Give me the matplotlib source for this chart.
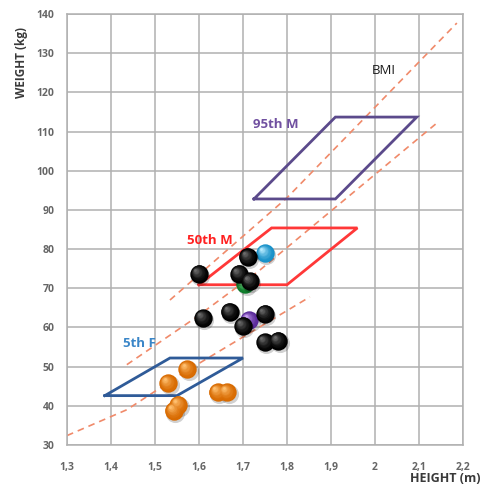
import matplotlib
matplotlib.use("Agg")
import matplotlib.pyplot as plt
import matplotlib.transforms as mtransforms
import numpy as np

# BMI reference lines (height m, weight kg)
bmi_low_h = [1.30, 1.436, 1.564, 1.852]
bmi_low_w = [32.4, 39.0, 48.4, 67.8]
bmi_mid_h = [1.436, 1.595, 1.739, 2.143]
bmi_mid_w = [50.5, 62.7, 74.7, 112.4]
bmi_high_h = [1.534, 1.80, 2.186]
bmi_high_w = [67.0, 93.1, 137.7]

# percentile boxes
box_95m_h = [1.725, 1.91, 2.095, 1.91, 1.725]
box_95m_w = [92.8, 92.8, 113.7, 113.7, 92.8]
box_50m_h = [1.60, 1.80, 1.96, 1.765, 1.60]
box_50m_w = [70.9, 70.9, 85.4, 85.4, 70.9]
box_5f_h = [1.386, 1.55, 1.70, 1.534, 1.386]
box_5f_w = [42.6, 42.6, 52.2, 52.2, 42.6]

# people
orange_h = [1.573, 1.53, 1.553, 1.543, 1.643, 1.664]
orange_w = [49.4, 45.8, 40.3, 38.8, 43.5, 43.5]
green_h = [1.705]
green_w = [71.0]
purple_h = [1.714]
purple_w = [61.9]
black_h = [1.60, 1.691, 1.711, 1.716, 1.609, 1.670, 1.700, 1.75, 1.75, 1.78]
black_w = [73.7, 73.7, 78.0, 71.8, 62.4, 64.0, 60.4, 63.5, 56.3, 56.6]
cyan_h = [1.75]
cyan_w = [79.0]

x_ticks = [1.3, 1.4, 1.5, 1.6, 1.7, 1.8, 1.9, 2.0, 2.1, 2.2]
x_labels = ["1,3", "1,4", "1,5", "1,6", "1,7", "1,8", "1,9", "2", "2,1", "2,2"]
y_ticks = list(range(30, 141, 10))

plt.rcParams['font.family'] = ['Open Sans', 'DejaVu Sans']

fig = plt.figure(figsize=(4.83, 4.84), dpi=100)
ax = fig.add_axes([0.1387, 0.0806, 0.8199, 0.8904])
ax.set_xlim(1.3, 2.2)
ax.set_ylim(30, 140)

ax.set_xticks(x_ticks)
ax.set_xticklabels(x_labels)
ax.set_yticks(y_ticks)
ax.tick_params(length=0, labelsize=7.5, labelcolor='#666666')
ax.tick_params(axis='x', pad=12)
ax.tick_params(axis='y', pad=9)
for lab in ax.get_xticklabels() + ax.get_yticklabels():
    lab.set_fontweight('bold')
ax.grid(True, color='#b0b0b0', linewidth=1.1)
ax.set_axisbelow(True)
for s in ax.spines.values():
    s.set_color('#b0b0b0')
    s.set_linewidth(1.1)

# dashed BMI lines
dash_kw = dict(color='#f08a6a', linewidth=1.2, linestyle=(0, (4, 3)), zorder=2)
ax.plot(bmi_low_h, bmi_low_w, **dash_kw)
ax.plot(bmi_mid_h, bmi_mid_w, **dash_kw)
ax.plot(bmi_high_h, bmi_high_w, **dash_kw)

# boxes
ax.plot(box_95m_h, box_95m_w, color='#5b4a8b', linewidth=2.0, zorder=3, solid_joinstyle='miter')
ax.plot(box_50m_h, box_50m_w, color='#ff3838', linewidth=2.0, zorder=3, solid_joinstyle='miter')
ax.plot(box_5f_h, box_5f_w, color='#2f5b98', linewidth=2.0, zorder=3, solid_joinstyle='miter')


def balls(xs, ys, dark, light, z):
    # shaded sphere look: shadow, body, then highlight shrinking to upper left
    sh = mtransforms.offset_copy(ax.transData, fig=fig, x=1.0, y=-1.5, units='points')
    ax.scatter(xs, ys, s=190, color='#000000', alpha=0.18, linewidths=0, transform=sh, zorder=z)
    n = 9
    d = np.array(matplotlib.colors.to_rgb(dark))
    l = np.array(matplotlib.colors.to_rgb(light))
    for k in range(n):
        t = k / (n - 1)
        col = d + (l - d) * t ** 1.6
        size = 175 * (1 - t * 0.85) ** 2
        off = mtransforms.offset_copy(ax.transData, fig=fig, x=-2.6 * t, y=2.6 * t, units='points')
        ax.scatter(xs, ys, s=size, color=col, linewidths=0, transform=off, zorder=z + 0.01 * k)


balls(orange_h, orange_w, '#d86a00', '#ffc070', 5)
balls(green_h, green_w, '#0d7a2a', '#7ee08a', 5)
balls(purple_h, purple_w, '#5a2a9a', '#c8a0f0', 5)
balls(cyan_h, cyan_w, '#1690c8', '#b8ecff', 5)
balls(black_h, black_w, '#000000', '#6a6a6a', 6)

# labels
ax.text(1.723, 111.9, "95th M", color='#7050a0', fontsize=9.5, fontweight='bold', va='center', zorder=7)
ax.text(1.573, 82.3, "50th M", color='#ff2020', fontsize=9.5, fontweight='bold', va='center', zorder=7)
ax.text(1.427, 55.8, "5th F", color='#3a86c8', fontsize=9.5, fontweight='bold', va='center', zorder=7)
ax.text(1.993, 125.7, "BMI", color='#1a1a1a', fontsize=9.5, va='center', zorder=7)

fig.text(22 / 483, 1 - 62 / 484, "WEIGHT (kg)", rotation=90, ha='center', va='center',
         fontsize=8.5, fontweight='bold', color='#3a3a3a')
fig.text(445 / 483, 1 - 478 / 484, "HEIGHT (m)", ha='center', va='center',
         fontsize=9, fontweight='bold', color='#3a3a3a')

fig.savefig("out.png", dpi=100)
